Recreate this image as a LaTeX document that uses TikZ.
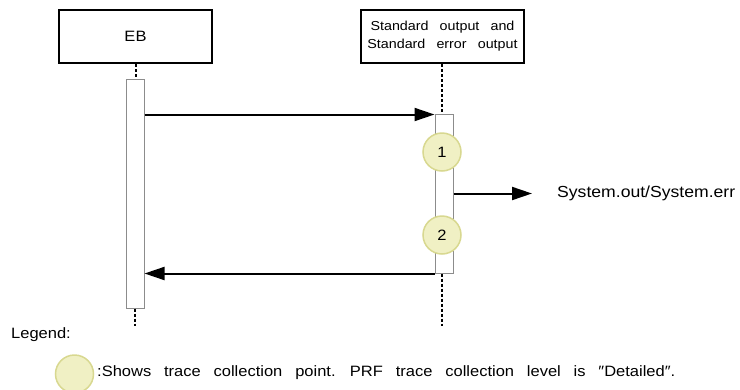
\documentclass[tikz,border=0pt]{standalone}
\usepackage{fontspec}
\setmainfont{Liberation Sans}[WordSpace={2.8},FakeStretch=1.1]
\usetikzlibrary{arrows.meta}
\definecolor{tpfill}{HTML}{F0F0C4}
\definecolor{tpdraw}{HTML}{D8D890}
\definecolor{actdraw}{HTML}{8C8C8C}
\begin{document}
\begin{tikzpicture}[x=1pt,y=-1pt,
  box/.style={draw,line width=2pt,minimum height=53pt,inner sep=0pt,align=center},
  act/.style={draw=actdraw,line width=1pt,fill=white,minimum width=18pt,inner sep=0pt},
  life/.style={line width=2pt,dash pattern=on 3pt off 2pt},
  msg/.style={line width=2pt,-{Triangle[length=20pt,width=13pt]}},
  tp/.style={circle,draw=tpdraw,fill=tpfill,line width=1.5pt,minimum size=38pt,inner sep=0pt,font=\fontsize{15}{18}\selectfont},
  lbl/.style={inner sep=0pt,anchor=west}
]
\useasboundingbox (0,0) rectangle (740,389);
% heads
\node[box,minimum width=153pt,font=\fontsize{15}{18}\selectfont] (eb) at (135.5,36.5) {EB};
\node[box,minimum width=163pt,font=\fontsize{13}{18}\selectfont] (std) at (442.5,36.5) {Standard output and\\Standard error output};
% activations
\node[act,minimum height=229pt] (acteb) at (135,193.5) {};
\node[act,minimum height=159pt] (actstd) at (444,193.5) {};
% lifeline ends
\coordinate (ebend) at (135,326);
\coordinate (stdend) at (442,326);
\coordinate (outend) at (532,193.5);
% lifelines
\draw[life] (eb.south) -- (eb.south |- acteb.north);
\draw[life] (acteb.south) -- (ebend);
\draw[life] (stdend |- std.south) -- (stdend |- actstd.north);
\draw[life] (stdend |- actstd.south) -- (stdend);
% messages
\draw[msg] ([yshift=-1pt]acteb.east |- actstd.north) -- ([yshift=-1pt]actstd.north west);
\draw[msg] (actstd.east) -- (outend);
\draw[msg] (actstd.south west) -- (acteb.east |- actstd.south);
% trace points
\node[tp] (c1) at (442,152) {1};
\node[tp] (c2) at (442,235) {2};
% output label
\node[lbl,font=\fontsize{16}{20}\selectfont] (sysout) at (557,193) {System.out/System.err};
% legend
\node[lbl,font=\fontsize{15}{18}\selectfont] (legend) at (11,335) {Legend:};
\node[tp] (lc) at (74.5,374) {};
\node[lbl,font=\fontsize{15}{18}\selectfont] (ltxt) at (97,373) {:Shows trace collection point. PRF trace collection level is ″Detailed″.};
\end{tikzpicture}
\end{document}
